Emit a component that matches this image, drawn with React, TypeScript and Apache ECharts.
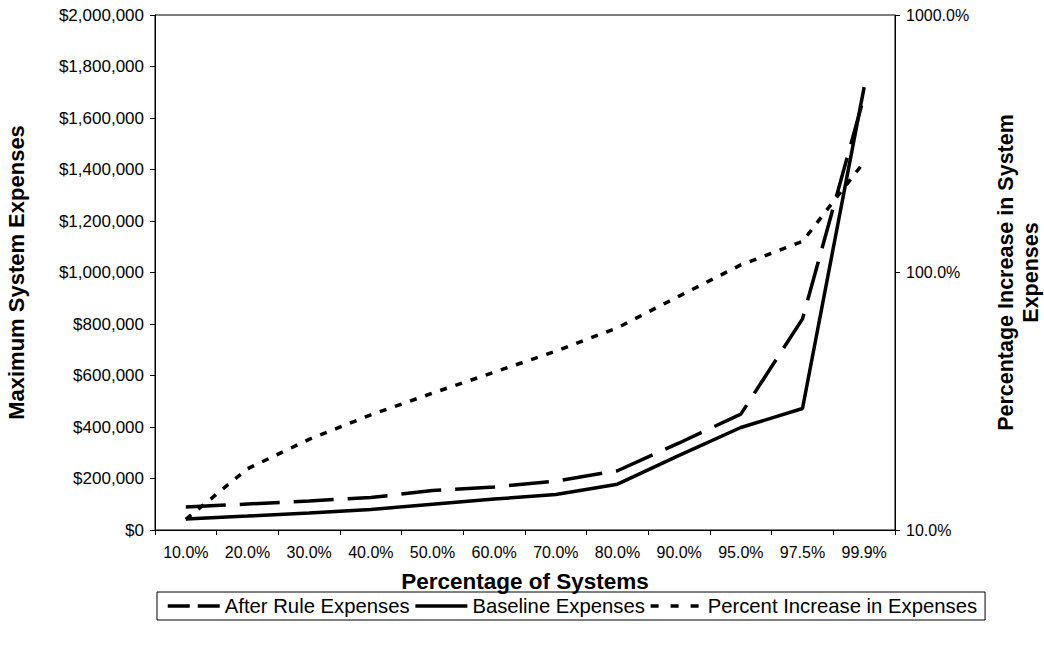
import React, { useEffect, useRef } from "react";
import * as echarts from "echarts";

const categories = ["10.0%", "20.0%", "30.0%", "40.0%", "50.0%", "60.0%", "70.0%", "80.0%", "90.0%", "95.0%", "97.5%", "99.9%"];
const afterRule = [89000, 101000, 113000, 126000, 153000, 167000, 190000, 230000, 338000, 450000, 820000, 1685000];
const baseline = [43000, 54000, 66000, 80000, 100000, 120000, 138000, 178000, 290000, 398000, 472000, 1720000];
const percentIncrease = [11.0, 17.3, 22.5, 28.0, 34.0, 41.0, 49.5, 61.0, 81.0, 107.0, 132.0, 269.0];

const FONT = "Liberation Sans, Arial, sans-serif";

export default function App() {
  const ref = useRef<HTMLDivElement>(null);
  useEffect(() => {
    if (!ref.current) return;
    const chart = echarts.init(ref.current, undefined, { renderer: "svg" });
    chart.setOption({
      animation: false,
      backgroundColor: "#fff",
      textStyle: { fontFamily: FONT, color: "#000" },
      grid: {
        left: 155,
        right: 149,
        top: 15,
        bottom: 116,
        containLabel: false,
        outerBoundsMode: "none",
        show: true,
        borderColor: "#000",
        borderWidth: 1,
      },
      legend: {
        left: 157,
        top: 592,
        borderColor: "#000",
        borderWidth: 1,
        padding: [4, 8, 4, 9],
        itemGap: 4,
        itemWidth: 52,
        itemHeight: 14,
        itemStyle: { opacity: 0 },
        textStyle: { fontFamily: FONT, fontSize: 20.3, color: "#000", padding: [0, 0, 0, 0] },
        data: [
          { name: "After Rule Expenses", lineStyle: { type: [22, 8], width: 3.5 } },
          { name: "Baseline Expenses", lineStyle: { type: "solid", width: 3.5 } },
          { name: "Percent Increase in Expenses", lineStyle: { type: [8, 12], width: 3.5 } },
        ],
      },
      xAxis: {
        type: "category",
        data: categories,
        boundaryGap: true,
        axisLine: { lineStyle: { color: "#000", width: 1 } },
        axisTick: { show: true, length: 5, lineStyle: { color: "#000" } },
        axisLabel: { color: "#000", fontSize: 16, margin: 14, fontFamily: FONT, interval: 0 },
        name: "Percentage of Systems",
        nameLocation: "middle",
        nameGap: 40,
        nameTextStyle: { fontSize: 22.5, fontWeight: "bold", color: "#000", fontFamily: FONT },
      },
      yAxis: [
        {
          type: "value",
          min: 0,
          max: 2000000,
          interval: 200000,
          splitLine: { show: false },
          axisLine: { show: true, lineStyle: { color: "#000" } },
          axisTick: { show: true, length: 5, lineStyle: { color: "#000" } },
          axisLabel: {
            color: "#000",
            fontSize: 17,
            margin: 11,
            fontFamily: FONT,
            formatter: (v: number) => "$" + v.toLocaleString("en-US"),
          },
          name: "Maximum System Expenses",
          nameLocation: "middle",
          nameRotate: 90,
          nameGap: 128,
          nameTextStyle: { fontSize: 22, fontWeight: "bold", color: "#000", fontFamily: FONT },
        },
        {
          type: "log",
          logBase: 10,
          min: 10,
          max: 1000,
          position: "right",
          splitLine: { show: false },
          minorTick: { show: false },
          axisLine: { show: true, lineStyle: { color: "#000" } },
          axisTick: { show: true, length: 5, lineStyle: { color: "#000" } },
          axisLabel: {
            color: "#000",
            fontSize: 16,
            margin: 11,
            fontFamily: FONT,
            formatter: (v: number) => v.toFixed(1) + "%",
          },
          name: "Percentage Increase in System\nExpenses",
          nameLocation: "middle",
          nameRotate: 90,
          nameGap: 98,
          nameTextStyle: { fontSize: 21.5, fontWeight: "bold", color: "#000", fontFamily: FONT, lineHeight: 25 },
        },
      ],
      series: [
        {
          name: "After Rule Expenses",
          type: "line",
          data: afterRule,
          symbol: "none",
          color: "#000",
          lineStyle: { color: "#000", width: 3.5, type: [40, 14] },
        },
        {
          name: "Baseline Expenses",
          type: "line",
          data: baseline,
          symbol: "none",
          color: "#000",
          lineStyle: { color: "#000", width: 3.5, type: "solid" },
        },
        {
          name: "Percent Increase in Expenses",
          type: "line",
          yAxisIndex: 1,
          data: percentIncrease,
          symbol: "none",
          color: "#000",
          lineStyle: { color: "#000", width: 3.5, type: [7, 9] },
        },
      ],
    });
    return () => chart.dispose();
  }, []);
  return <div ref={ref} style={{ width: 1044, height: 646, position: "absolute", left: 0, top: 0 }} />;
}
